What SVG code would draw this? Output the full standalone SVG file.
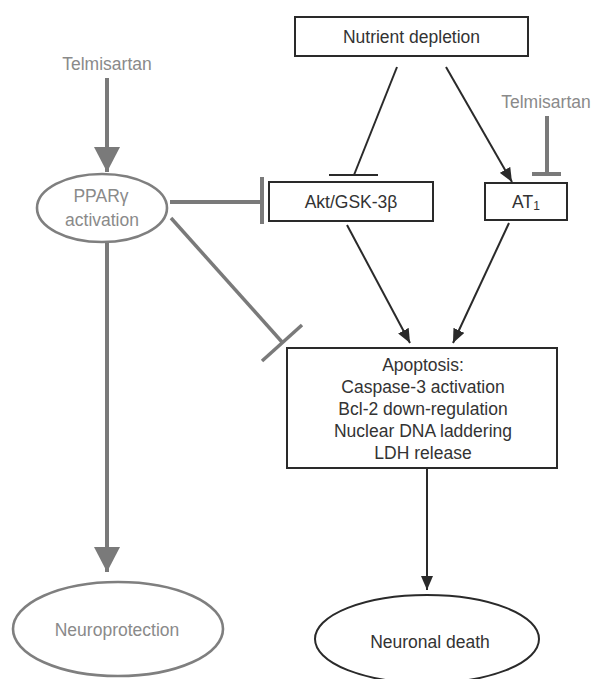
<svg xmlns="http://www.w3.org/2000/svg" width="595" height="679" viewBox="0 0 595 679">
  <defs>
    <style>
      .t { font-family: "Liberation Sans", Arial, sans-serif; font-size: 17.5px; text-anchor: middle; }
      .tb { fill: #333333; }
      .tg { fill: #8a8a8a; }
      .box { fill: #ffffff; stroke: #2a2a2a; stroke-width: 2; }
      .ellg { fill: #ffffff; stroke: #7f7f7f; stroke-width: 2.6; }
      .ellb { fill: #ffffff; stroke: #2a2a2a; stroke-width: 2; }
      .lb { stroke: #2a2a2a; stroke-width: 2; fill: none; }
      .lg { stroke: #7a7a7a; stroke-width: 4; fill: none; }
      .lg3 { stroke: #7a7a7a; stroke-width: 3.5; fill: none; }
    </style>
    <marker id="arrB" markerUnits="userSpaceOnUse" markerWidth="14" markerHeight="12" refX="14" refY="6" orient="auto">
      <path d="M0,0 L14,6 L0,12 z" fill="#2a2a2a"/>
    </marker>
    <marker id="arrG" markerUnits="userSpaceOnUse" markerWidth="26" markerHeight="26" refX="25" refY="13" orient="auto">
      <path d="M0,0 L25,13 L0,26 z" fill="#7a7a7a"/>
    </marker>
  </defs>

  <g id="connectors">
    <!-- Telmisartan (left) -> PPARγ -->
    <line class="lg" x1="107" y1="78" x2="107" y2="172" marker-end="url(#arrG)"/>
    <!-- PPARγ -> Neuroprotection -->
    <line class="lg" x1="107" y1="243" x2="107" y2="572" marker-end="url(#arrG)"/>
    <!-- PPARγ -| Akt/GSK-3β -->
    <line class="lg" x1="170" y1="202" x2="262" y2="202"/>
    <line class="lg" x1="262" y1="177" x2="262" y2="224"/>
    <!-- PPARγ -| Apoptosis -->
    <line class="lg3" x1="171" y1="218" x2="282" y2="342"/>
    <line class="lg3" x1="262" y1="361" x2="302" y2="325"/>
    <!-- Nutrient depletion -| Akt/GSK-3β -->
    <line class="lb" x1="397" y1="67" x2="354" y2="175"/>
    <line class="lb" x1="329" y1="175" x2="378" y2="175"/>
    <!-- Nutrient depletion -> AT1 -->
    <line class="lb" x1="446" y1="67" x2="512" y2="182" marker-end="url(#arrB)"/>
    <!-- Telmisartan (right) -| AT1 -->
    <line class="lg" x1="547" y1="116" x2="547" y2="174"/>
    <line class="lg" x1="532" y1="174" x2="561" y2="174"/>
    <!-- Akt -> Apoptosis -->
    <line class="lb" x1="347" y1="225" x2="410" y2="343" marker-end="url(#arrB)"/>
    <!-- AT1 -> Apoptosis -->
    <line class="lb" x1="509" y1="223" x2="453" y2="343" marker-end="url(#arrB)"/>
    <!-- Apoptosis -> Neuronal death -->
    <line class="lb" x1="427" y1="468" x2="427" y2="590" marker-end="url(#arrB)"/>
  </g>

  <g id="telmisartan-left">
    <text class="t tg" x="107" y="70">Telmisartan</text>
  </g>

  <g id="telmisartan-right">
    <text class="t tg" x="546" y="108">Telmisartan</text>
  </g>

  <g id="nutrient-depletion">
    <rect class="box" x="295" y="17" width="233" height="39"/>
    <text class="t tb" x="411.5" y="43">Nutrient depletion</text>
  </g>

  <g id="ppar">
    <ellipse class="ellg" cx="102" cy="208" rx="65" ry="34"/>
    <text class="t tg" x="101" y="202">PPARγ</text>
    <text class="t tg" x="102" y="226">activation</text>
  </g>

  <g id="akt">
    <rect class="box" x="269" y="182" width="164" height="39"/>
    <text class="t tb" x="351" y="208">Akt/GSK-3β</text>
  </g>

  <g id="at1">
    <rect class="box" x="485" y="183" width="82" height="37"/>
    <text class="t tb" x="526" y="208">AT<tspan font-size="12" dy="2">1</tspan></text>
  </g>

  <g id="apoptosis">
    <rect class="box" x="287" y="348" width="270" height="120"/>
    <text class="t tb" x="423" y="371">Apoptosis:</text>
    <text class="t tb" x="423" y="393">Caspase-3 activation</text>
    <text class="t tb" x="423" y="415">Bcl-2 down-regulation</text>
    <text class="t tb" x="423" y="437">Nuclear DNA laddering</text>
    <text class="t tb" x="423" y="459">LDH release</text>
  </g>

  <g id="neuroprotection">
    <ellipse class="ellg" cx="118" cy="629" rx="105" ry="47"/>
    <text class="t tg" x="117" y="636">Neuroprotection</text>
  </g>

  <g id="neuronal-death">
    <ellipse class="ellb" cx="427" cy="639" rx="112" ry="44"/>
    <text class="t tb" x="430" y="648">Neuronal death</text>
  </g>
</svg>
